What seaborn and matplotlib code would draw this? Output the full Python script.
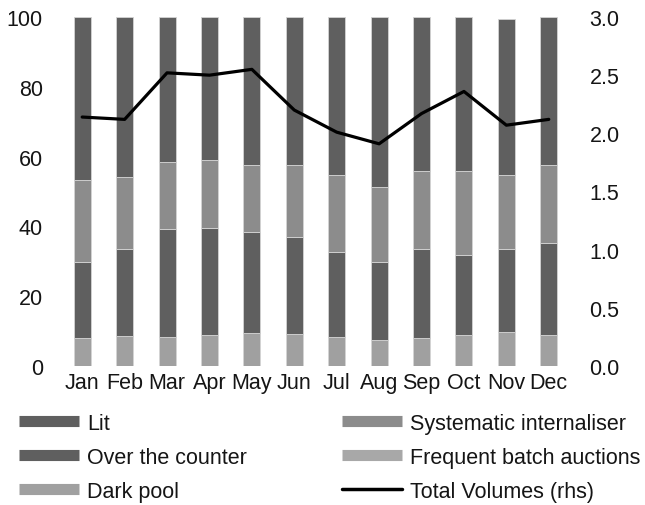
import numpy as np
import pandas as pd
import matplotlib
matplotlib.use("Agg")
import matplotlib.pyplot as plt
import seaborn as sns
from matplotlib.lines import Line2D

# Monthly market share by trading venue type (%), and total volumes (rhs)
months = ["Jan", "Feb", "Mar", "Apr", "May", "Jun",
          "Jul", "Aug", "Sep", "Oct", "Nov", "Dec"]
dark_pool = [8.0, 8.5, 8.4, 9.0, 9.4, 9.1, 8.4, 7.5, 7.9, 9.0, 9.6, 9.0]
frequent_batch = [0.0, 0.0, 0.0, 0.0, 0.0, 0.0, 0.0, 0.0, 0.0, 0.0, 0.0, 0.0]
over_the_counter = [21.9, 25.1, 30.9, 30.6, 29.1, 28.0, 24.4, 22.4, 25.6, 22.8, 23.9, 26.2]
systematic_internaliser = [23.4, 20.6, 19.2, 19.4, 19.2, 20.6, 21.9, 21.3, 22.4, 24.1, 21.2, 22.5]
lit = [46.7, 45.8, 41.5, 41.0, 42.3, 42.3, 45.3, 48.8, 44.1, 44.1, 44.7, 42.3]
total_volumes = [2.14, 2.12, 2.52, 2.50, 2.55, 2.20, 2.01, 1.91, 2.17, 2.36, 2.07, 2.12]

left_ticks = [0, 20, 40, 60, 80, 100]
right_ticks = [0.0, 0.5, 1.0, 1.5, 2.0, 2.5, 3.0]

DARK = "#5f5f5f"
MID = "#8c8c8c"
LIGHT = "#a0a0a0"
LIGHTER = "#a8a8a8"
TEXT = "#151515"

sns.set_theme(style="white")
plt.rcParams["font.family"] = ["Liberation Sans", "DejaVu Sans"]
FS = 15.5

W, H = 645, 506
fig = plt.figure(figsize=(W / 100, H / 100), dpi=100)
ax = fig.add_axes([61 / W, 1 - 367 / H, (570 - 61) / W, (367 - 18) / H])

layers = [
    ("Dark pool", dark_pool, LIGHT),
    ("Frequent batch auctions", frequent_batch, LIGHTER),
    ("Over the counter", over_the_counter, DARK),
    ("Systematic internaliser", systematic_internaliser, MID),
    ("Lit", lit, DARK),
]

bottom = np.zeros(len(months))
for name, vals, color in layers:
    df = pd.DataFrame({"month": months, "share": vals})
    sns.barplot(data=df, x="month", y="share", color=color, saturation=1,
                bottom=bottom, width=0.4, errorbar=None,
                edgecolor="#d4d4d4", linewidth=0.6, ax=ax)
    bottom = bottom + np.asarray(vals)

ax.set_xlim(-0.5, len(months) - 0.5)
ax.set_ylim(0, 100)
ax.set_yticks(left_ticks)
ax.set_xlabel("")
ax.set_ylabel("")
ax.tick_params(axis="y", length=0, pad=13, labelsize=FS, colors=TEXT)
ax.tick_params(axis="x", length=0, pad=4, labelsize=FS, colors=TEXT)
for s in ax.spines.values():
    s.set_visible(False)

ax2 = ax.twinx()
positions = ax.get_xticks()
sns.lineplot(x=positions, y=total_volumes, ax=ax2, color="black", linewidth=2.3)
ax2.set_ylim(0, 3)
ax2.set_yticks(right_ticks)
ax2.set_yticklabels([f"{t:.1f}" for t in right_ticks])
ax2.tick_params(axis="y", length=0, pad=14, labelsize=FS, colors=TEXT)
ax2.set_ylabel("")
for s in ax2.spines.values():
    s.set_visible(False)
ax2.set_xlim(-0.5, len(months) - 0.5)


def patch(color):
    return Line2D([0], [0], color=color, linewidth=8, solid_capstyle="butt")


legend_kw = dict(frameon=False, fontsize=FS, handlelength=2.8, handletextpad=0.35,
                 labelspacing=0.6, borderpad=0, borderaxespad=0, loc="upper left")
left_legend = fig.legend(
    [patch(DARK), patch(DARK), patch(LIGHT)],
    ["Lit", "Over the counter", "Dark pool"],
    bbox_to_anchor=(19 / W, 1 - 414 / H), **legend_kw)
right_legend = fig.legend(
    [patch(MID), patch(LIGHTER),
     Line2D([0], [0], color="black", linewidth=2.5)],
    ["Systematic internaliser", "Frequent batch auctions", "Total Volumes (rhs)"],
    bbox_to_anchor=(342 / W, 1 - 414 / H), **legend_kw)
for lg in (left_legend, right_legend):
    for t in lg.get_texts():
        t.set_color(TEXT)

fig.savefig("out.png", dpi=100)
